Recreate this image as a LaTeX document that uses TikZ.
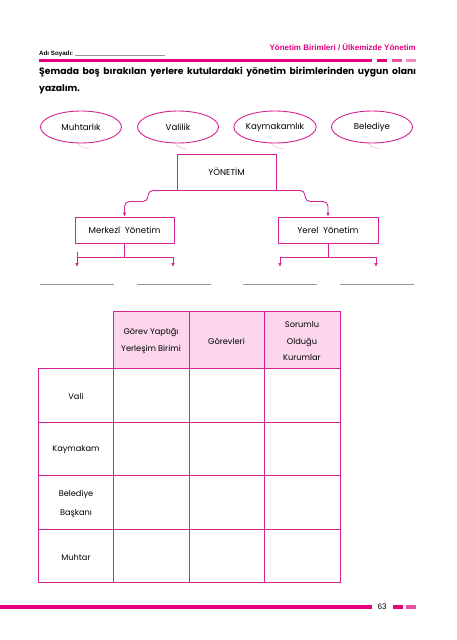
\documentclass[tikz,border=0pt]{standalone}
\usepackage{fontspec}
\setmainfont{Poppins}
\newfontfamily\headfont{Liberation Sans}
\usepackage{tikz}
\usetikzlibrary{positioning, arrows.meta, shapes.geometric, calc}
\definecolor{pagemagenta}{RGB}{228, 0, 126}
\definecolor{midpink}{RGB}{234, 80, 160}
\definecolor{lightpink}{RGB}{240, 140, 195}
\definecolor{cellpink}{RGB}{251, 214, 236}
\definecolor{linemagenta}{RGB}{212, 36, 146}
\definecolor{dotgrey}{RGB}{150, 150, 150}

\begin{document}
\begin{tikzpicture}[x=1pt, y=-1pt,
    bubble/.style={ellipse, draw=linemagenta, line width=0.9pt, minimum width=81pt, minimum height=32pt, inner sep=0pt, font=\fontsize{8.6}{10}\selectfont},
    unitbox/.style={rectangle, draw=linemagenta, line width=0.9pt, minimum height=26pt, inner sep=0pt, font=\fontsize{8.6}{10}\selectfont},
    link/.style={linemagenta, line width=0.9pt, -{Latex[length=4pt,width=3.6pt]}},
    grid/.style={linemagenta, line width=0.8pt},
    celltext/.style={align=center, inner sep=0pt, font=\fontsize{8.2}{16.5}\selectfont},
    answer/.style={dotgrey, line width=0.7pt, dash pattern=on 0.45pt off 0.45pt}]
    \fill[white] (0,0) rectangle (457,640);
    \useasboundingbox (0,0) rectangle (457,640);
    % Page header
    \node[anchor=base west, inner sep=0pt, font=\headfont\bfseries\fontsize{6.2}{7}\selectfont] (name) at (39,55.5) {Adı Soyadı:};
    \draw[dotgrey, line width=0.6pt, dash pattern=on 0.45pt off 0.45pt] ([xshift=1.5pt]name.base east) -- (165,55.5);
    \node[anchor=base east, inner sep=0pt, text=pagemagenta, font=\headfont\bfseries\fontsize{8}{9}\selectfont] (title) at (416,50) {Yönetim Birimleri / Ülkemizde Yönetim};
    \fill[pagemagenta] (39,58.5) rectangle (372,62);
    \foreach \x/\c in {377/pagemagenta, 392/midpink, 406/lightpink} {
        \fill[\c] (\x,58.5) rectangle ++(10,3.5);
    }
    % Instruction
    \node[anchor=north west, inner sep=0pt, text width=377pt, align=justify, font=\bfseries\fontsize{9.2}{17}\selectfont] (task) at (39,67) {Şemada boş bırakılan yerlere kutulardaki yönetim birimlerinden uygun olanı yazalım.};
    % Word bubbles
    \foreach \x/\txt/\nm in {81/Muhtarlık/muhtarlik, 178/Valilik/valilik, 275/Kaymakamlık/kaymakamlik, 372/Belediye/belediye} {
        \node[bubble] (\nm) at (\x,127) {\txt};
        \draw[lightpink, line width=0.5pt, opacity=0.7] (\nm.-100) .. controls ($(\nm.-95)+(0,3)$) .. ($(\nm.south)+(8,5.5)$);
    }
    % Scheme boxes
    \node[unitbox, minimum width=99pt, minimum height=36pt] (yonetim) at (226.5,172) {YÖNETİM};
    \node[unitbox, minimum width=99pt] (merkezi) at (124.5,230) {Merkezî \ Yönetim};
    \node[unitbox, minimum width=100pt] (yerel) at (328,230) {Yerel \ Yönetim};
    % Branches
    \draw[link, rounded corners=5pt] (yonetim.south) -- ++(-78.5,0) -- ++(0,11) -| (merkezi.north);
    \draw[link, rounded corners=5pt] (yonetim.south) -- ++(78.5,0) -- ++(0,11) -| (yerel.north);
    \coordinate (m1) at (77,267);
    \coordinate (m2) at (173,267);
    \coordinate (y1) at (280,267);
    \coordinate (y2) at (376,267);
    \draw[linemagenta, line width=0.9pt] (merkezi.south) -- ++(0,14) coordinate (mj);
    \draw[linemagenta, line width=0.9pt] (yerel.south) -- ++(0,14) coordinate (yj);
    \draw[linemagenta, line width=0.9pt] (77,252) -- (77,257);
    \foreach \s/\t in {mj/m1, mj/m2, yj/y1, yj/y2} {
        \draw[link] (\s) -| (\t);
    }
    % Answer lines
    \foreach \x in {40,137,243,340} {
        \draw[answer] (\x,284) -- ++(73,0);
    }
    % Table
    \fill[cellpink] (113,311) rectangle (340,368);
    \draw[grid] (113,311) rectangle (340,582);
    \draw[grid] (38,368) rectangle (113,582);
    \foreach \x in {189,264} {
        \draw[grid] (\x,311) -- (\x,582);
    }
    \foreach \y in {368,422,475,529} {
        \draw[grid] (38,\y) -- (340,\y);
    }
    \node[celltext] (hyer) at (151,341) {Görev Yaptığı\\Yerleşim Birimi};
    \node[celltext] (hgor) at (226.5,341) {Görevleri};
    \node[celltext] (hkur) at (302,341) {Sorumlu\\Olduğu\\Kurumlar};
    \foreach \y/\txt/\nm in {396/Vali/vali, 450/Kaymakam/kaymakam, 504/{Belediye\\Başkanı}/baskan, 557/Muhtar/muhtar} {
        \node[celltext, font=\fontsize{8.2}{19}\selectfont] (\nm) at (76,\y) {\txt};
    }
    % Page footer
    \fill[pagemagenta] (0,605) rectangle (372,608.5);
    \node[anchor=base west, inner sep=0pt, font=\headfont\fontsize{8}{9}\selectfont] (page) at (377.5,609.5) {63};
    \foreach \x/\c in {393/pagemagenta, 406/midpink} {
        \fill[\c] (\x,605) rectangle ++(10,3.5);
    }
\end{tikzpicture}
\end{document}
